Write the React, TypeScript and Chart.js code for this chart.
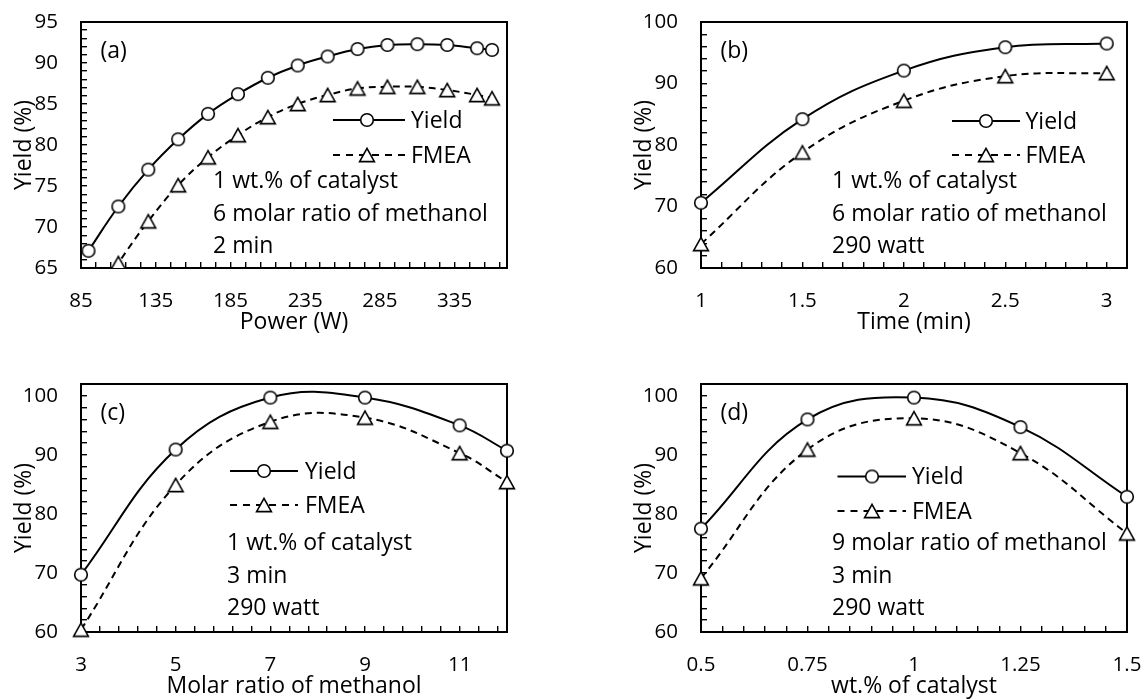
import React, { useEffect, useRef } from 'react';
import { Chart, registerables } from 'chart.js';

Chart.register(...registerables);

const FONT = "'Open Sans', 'Noto Sans', sans-serif";
const TEXT_SIZE = 23;
const TICK_SIZE = 20.5;

// ---------- (a) Power ----------
const powerW = [90, 110, 130, 150, 170, 190, 210, 230, 250, 270, 290, 310, 330, 350, 360];
const yieldByPower = [67.1, 72.5, 77.0, 80.7, 83.8, 86.2, 88.2, 89.7, 90.8, 91.7, 92.2, 92.3, 92.2, 91.8, 91.6];
const fmeaByPower = [60.0, 65.6, 70.7, 75.1, 78.5, 81.2, 83.4, 85.0, 86.1, 86.9, 87.1, 87.1, 86.7, 86.1, 85.7];
const powerTickLabels = [85, 135, 185, 235, 285, 335];
const yieldTickLabelsA = [65, 70, 75, 80, 85, 90, 95];

// ---------- (b) Time ----------
const timeMin = [1, 1.5, 2, 2.5, 3];
const yieldByTime = [70.6, 84.2, 92.1, 95.9, 96.5];
const fmeaByTime = [63.9, 78.8, 87.2, 91.2, 91.7];
const timeTickLabels = [1, 1.5, 2, 2.5, 3];
const yieldTickLabelsB = [60, 70, 80, 90, 100];

// ---------- (c) Molar ratio ----------
const molarRatio = [3, 5, 7, 9, 11, 12];
const yieldByRatio = [69.7, 90.9, 99.7, 99.7, 95.0, 90.7];
const fmeaByRatio = [60.4, 84.9, 95.6, 96.3, 90.3, 85.4];
const ratioTickLabels = [3, 5, 7, 9, 11];
const yieldTickLabelsC = [60, 70, 80, 90, 100];

// ---------- (d) Catalyst ----------
const catalystWt = [0.5, 0.75, 1, 1.25, 1.5];
const yieldByCatalyst = [77.5, 96.0, 99.7, 94.7, 82.9];
const fmeaByCatalyst = [69.1, 90.9, 96.2, 90.3, 76.7];
const catalystTickLabels = [0.5, 0.75, 1, 1.25, 1.5];
const yieldTickLabelsD = [60, 70, 80, 90, 100];

const seriesNames = ['Yield', 'FMEA'];
const yTitle = 'Yield (%)';

type Panel = {
  key: string;
  box: { left: number; top: number; width: number; height: number };
  plot: { l: number; t: number; r: number; b: number };
  x: number[];
  y1: number[];
  y2: number[];
  xMin: number; xMax: number; xMinor: number; xLabels: number[];
  yMin: number; yMax: number; yMinor: number; yLabels: number[];
  xTitle: string;
  tag: string;
  notes: string[];
  noteX: number;
  legend: { x0: number; x1: number; xm: number; xt: number; r1: number; r2: number };
  clipBottom: number;
};

const panels: Panel[] = [
  {
    key: 'a',
    box: { left: 0, top: 0, width: 570, height: 350 },
    plot: { l: 81, t: 22, r: 507, b: 268 },
    x: powerW, y1: yieldByPower, y2: fmeaByPower,
    xMin: 85, xMax: 370, xMinor: 10, xLabels: powerTickLabels,
    yMin: 65, yMax: 95, yMinor: 1, yLabels: yieldTickLabelsA,
    xTitle: 'Power (W)', tag: '(a)',
    notes: ['1 wt.% of catalyst', '6 molar ratio of methanol', '2 min'],
    noteX: 132,
    legend: { x0: 252, x1: 324, xm: 286, xt: 330, r1: 98, r2: 133 },
    clipBottom: 0,
  },
  {
    key: 'b',
    box: { left: 570, top: 0, width: 574, height: 350 },
    plot: { l: 701, t: 22, r: 1127, b: 268 },
    x: timeMin, y1: yieldByTime, y2: fmeaByTime,
    xMin: 1, xMax: 3.1, xMinor: 0.1, xLabels: timeTickLabels,
    yMin: 60, yMax: 100, yMinor: 2, yLabels: yieldTickLabelsB,
    xTitle: 'Time (min)', tag: '(b)',
    notes: ['1 wt.% of catalyst', '6 molar ratio of methanol', '290 watt'],
    noteX: 131,
    legend: { x0: 251, x1: 319, xm: 285, xt: 324.5, r1: 99, r2: 133 },
    clipBottom: 12,
  },
  {
    key: 'c',
    box: { left: 0, top: 350, width: 570, height: 349 },
    plot: { l: 81, t: 384, r: 507, b: 632 },
    x: molarRatio, y1: yieldByRatio, y2: fmeaByRatio,
    xMin: 3, xMax: 12, xMinor: 0.4, xLabels: ratioTickLabels,
    yMin: 60, yMax: 102, yMinor: 2, yLabels: yieldTickLabelsC,
    xTitle: 'Molar ratio of methanol', tag: '(c)',
    notes: ['1 wt.% of catalyst', '3 min', '290 watt'],
    noteX: 146,
    legend: { x0: 149, x1: 217, xm: 183, xt: 224, r1: 87, r2: 121 },
    clipBottom: 12,
  },
  {
    key: 'd',
    box: { left: 570, top: 350, width: 574, height: 349 },
    plot: { l: 701, t: 384, r: 1127, b: 632 },
    x: catalystWt, y1: yieldByCatalyst, y2: fmeaByCatalyst,
    xMin: 0.5, xMax: 1.5, xMinor: 0.05, xLabels: catalystTickLabels,
    yMin: 60, yMax: 102, yMinor: 2, yLabels: yieldTickLabelsD,
    xTitle: 'wt.% of catalyst', tag: '(d)',
    notes: ['9 molar ratio of methanol', '3 min', '290 watt'],
    noteX: 131,
    legend: { x0: 136.5, x1: 205, xm: 171, xt: 211, r1: 92.5, r2: 127 },
    clipBottom: 12,
  },
];

const NOTE_BASELINES = [165.5, 198.5, 231];

function tickRange(min: number, max: number, step: number): number[] {
  const n = Math.floor((max - min) / step + 1e-6);
  const out: number[] = [];
  for (let i = 0; i <= n; i++) out.push(+(min + i * step).toFixed(6));
  return out;
}

function fmt(v: number): string {
  return String(+v.toFixed(2));
}

function makeCircle(): HTMLCanvasElement {
  const c = document.createElement('canvas');
  c.width = 18;
  c.height = 18;
  const ctx = c.getContext('2d')!;
  ctx.beginPath();
  ctx.arc(9, 9, 6.3, 0, Math.PI * 2);
  ctx.fillStyle = '#fff';
  ctx.fill();
  ctx.lineWidth = 1.6;
  ctx.strokeStyle = '#000';
  ctx.stroke();
  return c;
}

function makeTriangle(): HTMLCanvasElement {
  const c = document.createElement('canvas');
  c.width = 20;
  c.height = 18;
  const ctx = c.getContext('2d')!;
  ctx.beginPath();
  ctx.moveTo(10, 2.4);
  ctx.lineTo(2.6, 15.6);
  ctx.lineTo(17.4, 15.6);
  ctx.closePath();
  ctx.fillStyle = '#fff';
  ctx.fill();
  ctx.lineWidth = 1.6;
  ctx.lineJoin = 'miter';
  ctx.strokeStyle = '#000';
  ctx.stroke();
  return c;
}

function isMajor(v: number, labels: number[]): boolean {
  return labels.some((m) => Math.abs(m - v) < 1e-6);
}

function zeroPadding(s: any) {
  s.paddingLeft = 0;
  s.paddingRight = 0;
  s.paddingTop = 0;
  s.paddingBottom = 0;
}

function buildConfig(p: Panel, circle: HTMLCanvasElement, tri: HTMLCanvasElement): any {
  const yAxisWidth = p.plot.l - p.box.left;
  const xAxisHeight = p.box.top + p.box.height - p.plot.b;
  const padTop = p.plot.t - p.box.top;
  const padRight = p.box.left + p.box.width - p.plot.r;
  const clip = { left: 14, top: 14, right: 14, bottom: p.clipBottom };
  const tickFont = { family: FONT, size: TICK_SIZE };
  const grid = {
    drawOnChartArea: false,
    drawTicks: true,
    tickLength: -6,
    color: '#000',
    lineWidth: 1.4,
  };

  const decor = {
    id: 'decor' + p.key,
    beforeDatasetsDraw(chart: any) {
      const { ctx, chartArea: a } = chart;
      ctx.save();
      ctx.strokeStyle = '#000';
      ctx.lineWidth = 2;
      ctx.strokeRect(a.left, a.top, a.right - a.left, a.bottom - a.top);
      ctx.restore();
    },
    afterDraw(chart: any) {
      const { ctx, chartArea: a } = chart;
      ctx.save();
      ctx.fillStyle = '#000';
      ctx.font = `${TEXT_SIZE}px ${FONT}`;
      ctx.textBaseline = 'alphabetic';

      ctx.textAlign = 'center';
      ctx.fillText(p.xTitle, (a.left + a.right) / 2, a.bottom + 61);

      ctx.save();
      ctx.translate(a.left - 50, (a.top + a.bottom) / 2);
      ctx.rotate(-Math.PI / 2);
      ctx.fillText(yTitle, 0, 0);
      ctx.restore();

      ctx.textAlign = 'left';
      ctx.fillText(p.tag, a.left + 19.5, a.top + 35.5);
      p.notes.forEach((t, i) => ctx.fillText(t, a.left + p.noteX, a.top + NOTE_BASELINES[i]));

      const L = p.legend;
      const r1 = a.top + L.r1;
      const r2 = a.top + L.r2;
      ctx.strokeStyle = '#000';
      ctx.lineWidth = 2;
      ctx.beginPath();
      ctx.moveTo(a.left + L.x0, r1);
      ctx.lineTo(a.left + L.x1, r1);
      ctx.stroke();
      ctx.setLineDash([7, 6]);
      ctx.beginPath();
      ctx.moveTo(a.left + L.x0, r2);
      ctx.lineTo(a.left + L.x1, r2);
      ctx.stroke();
      ctx.setLineDash([]);
      ctx.drawImage(circle, a.left + L.xm - circle.width / 2, r1 - circle.height / 2);
      ctx.drawImage(tri, a.left + L.xm - tri.width / 2, r2 - tri.height / 2);
      ctx.fillText(seriesNames[0], a.left + L.xt, r1 + 7.5);
      ctx.fillText(seriesNames[1], a.left + L.xt, r2 + 7.5);
      ctx.restore();
    },
  };

  return {
    type: 'line',
    data: {
      datasets: [
        {
          label: seriesNames[0],
          data: p.x.map((x, i) => ({ x, y: p.y1[i] })),
          borderColor: '#000',
          borderWidth: 2,
          pointStyle: circle,
          pointRadius: 7,
          tension: 0.4,
          fill: false,
          clip,
        },
        {
          label: seriesNames[1],
          data: p.x.map((x, i) => ({ x, y: p.y2[i] })),
          borderColor: '#000',
          borderWidth: 2,
          borderDash: [7, 5],
          pointStyle: tri,
          pointRadius: 7,
          tension: 0.4,
          fill: false,
          clip,
        },
      ],
    },
    options: {
      responsive: false,
      maintainAspectRatio: false,
      animation: false,
      events: [],
      devicePixelRatio: 1,
      layout: { padding: { left: 0, top: padTop, right: padRight, bottom: 0 } },
      plugins: { legend: { display: false }, tooltip: { enabled: false } },
      scales: {
        x: {
          type: 'linear',
          position: 'bottom',
          min: p.xMin,
          max: p.xMax,
          afterBuildTicks: (s: any) => {
            s.ticks = tickRange(p.xMin, p.xMax, p.xMinor).map((v) => ({ value: v }));
          },
          afterFit: (s: any) => {
            s.height = xAxisHeight;
            zeroPadding(s);
          },
          ticks: {
            autoSkip: false,
            maxRotation: 0,
            minRotation: 0,
            padding: 26.7,
            color: '#000',
            font: tickFont,
            callback: (v: number) => (isMajor(v, p.xLabels) ? fmt(v) : ''),
          },
          grid,
          border: { display: false },
        },
        y: {
          type: 'linear',
          position: 'left',
          min: p.yMin,
          max: p.yMax,
          afterBuildTicks: (s: any) => {
            s.ticks = tickRange(p.yMin, p.yMax, p.yMinor).map((v) => ({ value: v }));
          },
          afterFit: (s: any) => {
            s.width = yAxisWidth;
            zeroPadding(s);
          },
          ticks: {
            autoSkip: false,
            padding: 29,
            color: '#000',
            font: tickFont,
            callback: (v: number) => (isMajor(v, p.yLabels) ? fmt(v) : ''),
          },
          grid,
          border: { display: false },
        },
      },
    },
    plugins: [decor],
  };
}

function PanelChart({ p }: { p: Panel }) {
  const ref = useRef<HTMLCanvasElement>(null);
  useEffect(() => {
    const canvas = ref.current;
    if (!canvas) return;
    const chart = new Chart(canvas, buildConfig(p, makeCircle(), makeTriangle()));
    return () => chart.destroy();
  }, [p]);
  return (
    <div
      style={{
        position: 'absolute',
        left: p.box.left,
        top: p.box.top,
        width: p.box.width,
        height: p.box.height,
      }}
    >
      <canvas ref={ref} width={p.box.width} height={p.box.height} style={{ display: 'block' }} />
    </div>
  );
}

export default function App() {
  return (
    <div
      style={{
        position: 'absolute',
        left: 0,
        top: 0,
        width: 1144,
        height: 699,
        background: '#fff',
        overflow: 'hidden',
      }}
    >
      {panels.map((p) => (
        <PanelChart key={p.key} p={p} />
      ))}
    </div>
  );
}
